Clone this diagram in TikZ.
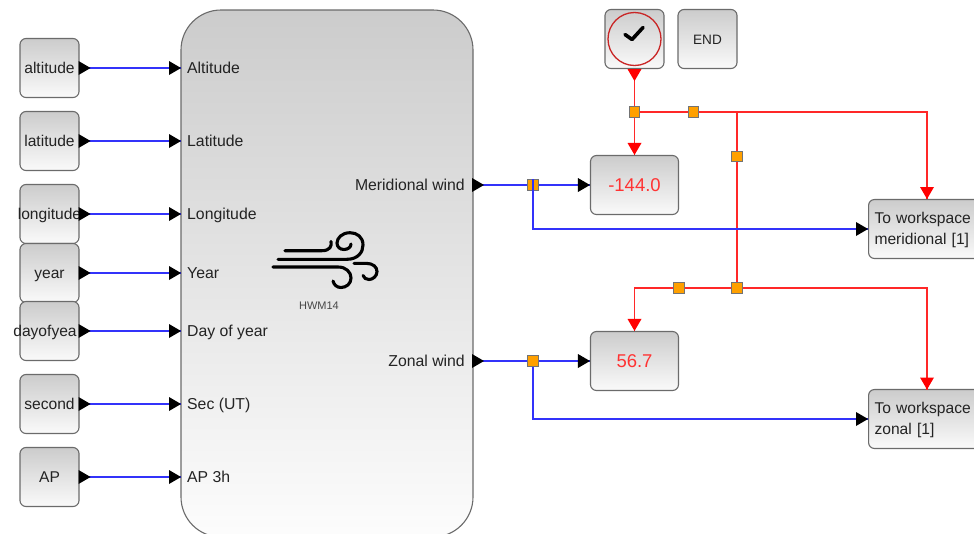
\documentclass[tikz,border=0pt]{standalone}
\usepackage{fontspec}
\setmainfont{Liberation Sans}
\definecolor{wireblue}{RGB}{50,50,250}
\definecolor{wirered}{RGB}{255,40,40}
\definecolor{txt}{RGB}{35,35,35}
\definecolor{splitfill}{RGB}{255,160,0}
\tikzset{
  x=1pt,y=-1pt,
  blockbase/.style={draw=black!58,line width=1.1pt,rounded corners=6pt,top color=black!20,bottom color=black!2,inner sep=0pt,text=txt,align=left},
  srcblock/.style={blockbase,minimum width=59pt,minimum height=59pt,text height=12pt,text depth=1.5pt,font=\fontsize{15.6}{18}\selectfont},
  dispblock/.style={blockbase,minimum width=88pt,minimum height=59pt,text=red!80!white,font=\fontsize{18.5}{22}\selectfont},
  wsblock/.style={blockbase,minimum width=130pt,minimum height=59pt,font=\fontsize{15.6}{21}\selectfont,text width=118pt},
  portlab/.style={text=txt,inner sep=0pt,text height=12pt,text depth=1.5pt,font=\fontsize{15.8}{18}\selectfont},
  splitbox/.style={draw=black!55,line width=0.8pt,fill=splitfill,minimum size=10.5pt,inner sep=0pt},
  blue wire/.style={draw=wireblue,line width=1.2pt},
  red wire/.style={draw=wirered,line width=1.2pt},
  windline/.style={draw=black,line width=3.1pt,line cap=round},
  tipright/.pic={\fill[black] (-12,-7) -- (0,0) -- (-12,7) -- cycle;},
  tipdown/.pic={\fill[red] (-7,-12) -- (0,0) -- (7,-12) -- cycle;}
}
\begin{document}
\begin{tikzpicture}
\useasboundingbox (0,0) rectangle (974,533);
\clip (0,0) rectangle (974,533);
\fill[white] (0,0) rectangle (974,533);
% main block
\draw[draw=black!58,line width=1.1pt,top color=black!20,bottom color=black!1,rounded corners=40pt] (181,10) rectangle (473,537);
% sources
\node[srcblock] (altitude) at (49.5,68) {altitude};
\node[srcblock] (latitude) at (49.5,141) {latitude};
\node[srcblock] (longitude) at (49.5,214) {\makebox[0pt]{longitude}};
\node[srcblock] (year) at (49.5,273) {year};
\node[srcblock] (dayofyear) at (49.5,331) {\makebox[0pt]{\hspace{-9pt}dayofyea}};
\node[srcblock] (second) at (49.5,404) {second};
\node[srcblock] (ap) at (49.5,477) {AP};
% port positions
\coordinate (pa) at (181,68);
\coordinate (pb) at (181,141);
\coordinate (pc) at (181,214);
\coordinate (pd) at (181,273);
\coordinate (pe) at (181,331);
\coordinate (pf) at (181,404);
\coordinate (pg) at (181,477);
\coordinate (om) at (473,185);
\coordinate (oz) at (473,361);
\node[portlab,anchor=west] at (187,68) {Altitude};
\node[portlab,anchor=west] at (187,141) {Latitude};
\node[portlab,anchor=west] at (187,214) {Longitude};
\node[portlab,anchor=west] at (187,273) {Year};
\node[portlab,anchor=west] at (187,331) {Day of year};
\node[portlab,anchor=west] at (187,404) {Sec (UT)};
\node[portlab,anchor=west] at (187,477) {AP 3h};
\node[portlab,anchor=east] at (465,185) {Meridional wind};
\node[portlab,anchor=east] at (465,361) {Zonal wind};
% wires from sources
\foreach \s/\t in {altitude/pa,latitude/pb,longitude/pc,year/pd,dayofyear/pe,second/pf,ap/pg}{
  \draw[blue wire] (\s.east) -- (\t);
  \pic at ([xshift=11pt]\s.east) {tipright};
  \pic at (\t) {tipright};
}
% wind icon
\draw[windline] (285,250.7) -- (322,250.7) .. controls (330,250.7) and (332,246) .. (331,241.5);
\draw[windline] (278,259.3) -- (347,259.3) .. controls (358,259.3) and (363,252) .. (363,245) .. controls (363,237) and (357,232.7) .. (350,232.7) .. controls (342,232.7) and (337,238) .. (337,243) .. controls (337,247) and (340,249.5) .. (344,249.5) .. controls (348,249.5) and (351,247) .. (351,244);
\draw[windline] (273,267) -- (338,267) .. controls (346,267) and (351,272) .. (351,278) .. controls (351,284) and (346,287.5) .. (341,287.5) .. controls (337,287.5) and (334,285) .. (333,281);
\draw[windline] (354,263.3) -- (366,263.3) .. controls (373,263.3) and (377,267) .. (377,271.5) .. controls (377,276) and (373,279.5) .. (369,279.5) .. controls (366,279.5) and (364,278) .. (363,275.5);
\node[inner sep=0pt,text=black!72,font=\fontsize{11}{12}\selectfont] (hwm) at (319,305.5) {HWM14};
% clock and end
\node[blockbase,minimum width=59pt,minimum height=59pt] (clock) at (634.5,39) {};
\draw[draw=red!75!black!85!white,line width=1.3pt] (clock.center) circle (26.5pt);
\draw[black,line width=3.6pt,line cap=round,line join=round] (625,34.5) -- (632,39.5) -- (643,27.5);
\node[srcblock,text height=10pt,text depth=0pt,font=\fontsize{13.6}{16}\selectfont] (end) at (707.5,39) {END};
% displays
\node[dispblock] (d1) at (634.5,185) {-144.0};
\node[dispblock] (d2) at (634.5,361) {56.7};
% workspaces
\node[wsblock,anchor=west] (w1) at (868,229) {\rule{0pt}{13pt}To workspace\\meridional [1]};
\node[wsblock,anchor=west] (w2) at (868,419) {\rule{0pt}{13pt}To workspace\\zonal [1]};
% split coordinates
\coordinate (bs1) at (533,185);
\coordinate (bs2) at (533,361);
\coordinate (rs1) at (634.5,112);
\coordinate (rs2) at (693.5,112);
\coordinate (rs3) at (737,156.5);
\coordinate (rs4) at (737,288);
\coordinate (rs5) at (679,288);
\coordinate (rj1) at (737,112);
\coordinate (w1top) at (927,199);
\coordinate (w2top) at (927,389.5);
\coordinate (w1in) at (868,229);
\coordinate (w2in) at (868,419);
% red wires
\draw[red wire] (clock.south) -- (d1.north);
\pic at ([yshift=-12pt]clock.south) {tipdown};
\pic at (d1.north) {tipdown};
\draw[red wire] (rs1) -| (w1top);
\pic at (w1top) {tipdown};
\draw[red wire] (rj1) -- (rs4);
\draw[red wire] (rs4) -| (w2top);
\pic at (w2top) {tipdown};
\draw[red wire] (rs4) -| (d2.north);
\pic at (d2.north) {tipdown};
% blue wires and split boxes
\draw[blue wire] (om) -- (d1.west);
\pic at ([xshift=11pt]om) {tipright};
\pic at (d1.west) {tipright};
\draw[blue wire] (oz) -- (d2.west);
\pic at ([xshift=11pt]oz) {tipright};
\pic at (d2.west) {tipright};
\node[splitbox] (n1) at (bs1) {};
\draw[blue wire] (n1.north) |- (w1in);
\pic at (w1.west) {tipright};
\draw[blue wire] (bs2) |- (w2in);
\pic at (w2.west) {tipright};
\node[splitbox] (n2) at (bs2) {};
\node[splitbox] (n3) at (rs1) {};
\node[splitbox] (n4) at (rs2) {};
\node[splitbox] (n5) at (rs3) {};
\node[splitbox] (n6) at (rs4) {};
\node[splitbox] (n7) at (rs5) {};
\end{tikzpicture}
\end{document}
